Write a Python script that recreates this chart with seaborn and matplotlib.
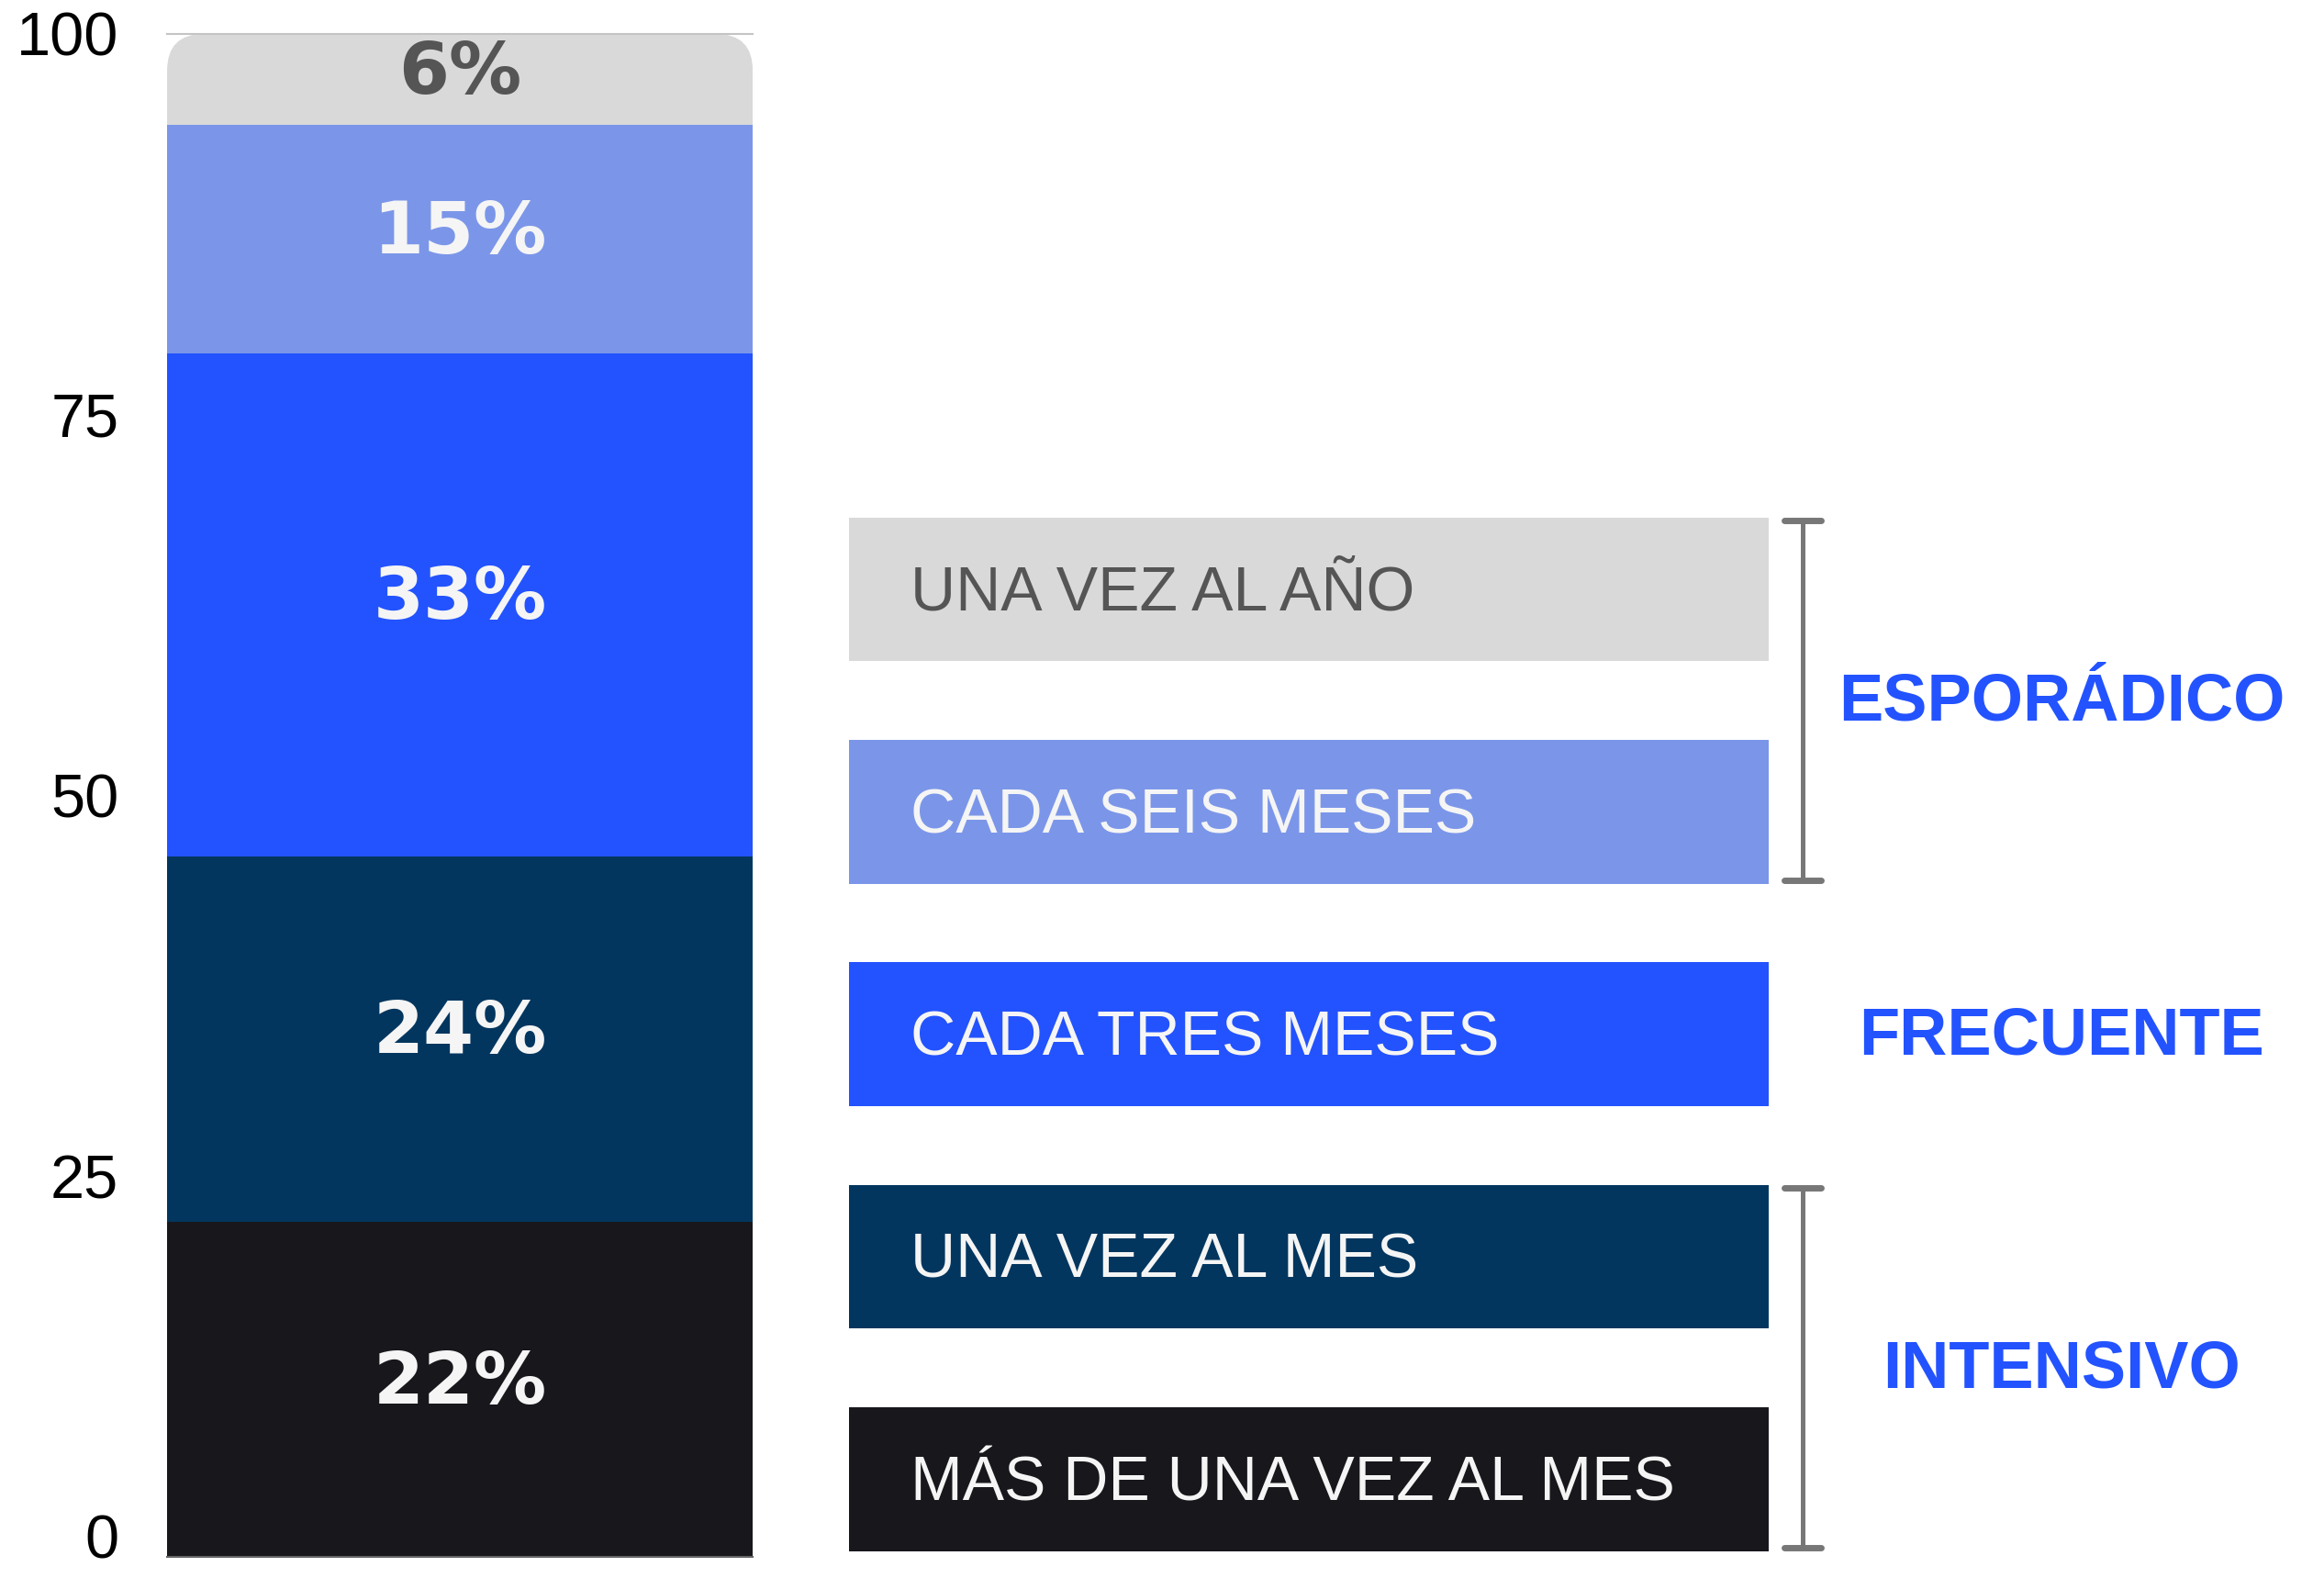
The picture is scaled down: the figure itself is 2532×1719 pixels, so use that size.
import matplotlib.pyplot as plt
import matplotlib.transforms as mtransforms
import seaborn as sns
import pandas as pd
import numpy as np
from matplotlib.patches import FancyBboxPatch

# frecuencia de compra, de abajo hacia arriba
categorias = ['MÁS DE UNA VEZ AL MES', 'UNA VEZ AL MES', 'CADA TRES MESES',
              'CADA SEIS MESES', 'UNA VEZ AL AÑO']
porcentajes = [22, 24, 33, 15, 6]
colores = ['#18171c', '#02365f', '#2353ff', '#7b96e9', '#d9d9d9']
colores_texto = ['#f5f5f5', '#f5f5f5', '#f5f5f5', '#f5f5f5', '#555555']
grupos = ['ESPORÁDICO', 'FRECUENTE', 'INTENSIVO']
grupo_cats = [['UNA VEZ AL AÑO', 'CADA SEIS MESES'], ['CADA TRES MESES'],
              ['UNA VEZ AL MES', 'MÁS DE UNA VEZ AL MES']]
ticks_y = [0, 25, 50, 75, 100]

sns.set_theme(style='white')
plt.rcParams['font.family'] = ['Liberation Sans', 'DejaVu Sans']

fig = plt.figure(figsize=(25.32, 17.19), dpi=100)

# barra apilada
ax = fig.add_axes([0.0719, 0.0134, 0.252, 0.9651])
acum = np.cumsum(porcentajes)
for i in reversed(range(len(porcentajes))):
    sns.barplot(x=['total'], y=[acum[i]], color=colores[i], width=1,
                saturation=1, linewidth=0, ax=ax)

# esquinas redondeadas arriba
clip = FancyBboxPatch((0, -0.2), 1, 1.2, boxstyle='round,pad=0,rounding_size=0.0627',
                      mutation_aspect=0.385, transform=ax.transAxes,
                      facecolor='none', edgecolor='none')
ax.patches[0].set_clip_path(clip)

bases = acum - np.array(porcentajes)
for p, b, c in zip(porcentajes, bases, colores_texto):
    ax.text(0, b + p / 2 + 0.4, f'{p}%', ha='center', va='center', fontsize=57,
            fontweight='heavy', color=c, family='DejaVu Sans')

ax.set_xlim(-0.5, 0.5)
ax.set_ylim(0, 100)
ax.set_yticks(ticks_y)
ax.set_yticklabels([str(t) for t in ticks_y], fontsize=48,
                   family=['Liberation Sans Narrow', 'Liberation Sans'])
ax.tick_params(axis='y', length=0, pad=38, colors='black')
# subir un poco el 0 para que no se corte
lab0 = ax.get_yticklabels()[0]
lab0.set_transform(lab0.get_transform() +
                   mtransforms.ScaledTranslation(0, 0.22, fig.dpi_scale_trans))
ax.set_xticks([])
ax.set_xlabel('')
ax.set_ylabel('')
for s in ['left', 'right']:
    ax.spines[s].set_visible(False)
ax.spines['top'].set_color('#c4c4c4')
ax.spines['top'].set_linewidth(1.5)
ax.spines['bottom'].set_color('#666666')
ax.spines['bottom'].set_linewidth(1.5)

# leyenda en cajas
ax2 = fig.add_axes([0.3653, 0.0, 0.6347, 0.697])
orden = categorias[::-1]
df = pd.DataFrame({'cat': orden, 'val': [1] * len(orden)})
sns.barplot(data=df, y='cat', x='val', hue='cat', palette=colores[::-1],
            width=0.647, saturation=1, linewidth=0, legend=False, ax=ax2)
ax2.set_xlim(0, 1.604)
ax2.set_ylim(4.445, -0.5)
ax2.axis('off')

for i, cat in enumerate(orden):
    ax2.text(0.067, i + 0.02, cat, ha='left', va='center', fontsize=49,
             color=colores_texto[::-1][i])

xb = 1.037
for g, cats in zip(grupos, grupo_cats):
    pos = [orden.index(c) for c in cats]
    y0, y1 = min(pos) - 0.31, max(pos) + 0.31
    if len(cats) > 1:
        ax2.plot([xb, xb], [y0, y1], color='#777777', lw=3.6, clip_on=False)
        for y in (y0, y1):
            ax2.plot([xb - 0.02, xb + 0.02], [y, y], color='#777777', lw=5,
                     solid_capstyle='round', clip_on=False)
    ax2.text(1.319, np.mean(pos) + 0.01, g, ha='center', va='center', fontsize=52,
             fontweight='bold', color='#2353ff')

fig.savefig('out.png', dpi=100)
